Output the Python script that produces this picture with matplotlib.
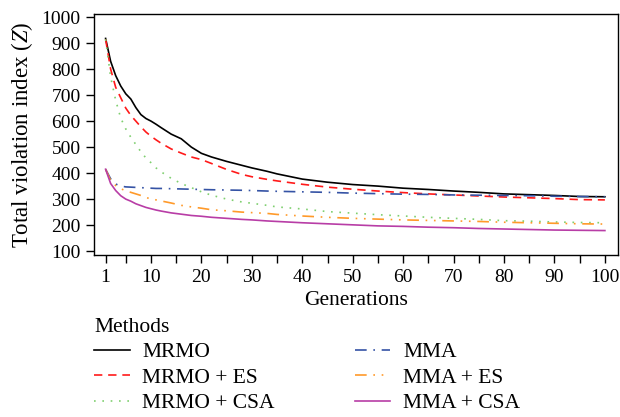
import matplotlib
matplotlib.use("Agg")
import matplotlib.pyplot as plt

plt.rcParams['font.family'] = ['Liberation Serif', 'DejaVu Serif']
plt.rcParams['mathtext.fontset'] = 'custom'
plt.rcParams['mathtext.rm'] = 'Liberation Serif'
plt.rcParams['mathtext.it'] = 'Liberation Serif:italic'

# Dados
geracoes = [1, 2, 3, 4, 5, 6, 7, 8, 9, 10, 11, 12, 14, 16, 18, 20, 22, 25, 28, 30,
            33, 35, 40, 45, 50, 55, 60, 65, 70, 75, 80, 85, 90, 95, 100]

mrmo = [918, 830, 775, 735, 705, 685, 652, 625, 610, 600, 588, 575, 550, 532, 500, 476,
        462, 445, 430, 420, 407, 397, 377, 365, 356, 350, 342, 337, 331, 326, 320, 317,
        314, 310, 309]
mrmo_es = [915, 800, 730, 690, 650, 622, 600, 578, 558, 542, 528, 515, 493, 477, 462, 452,
           437, 414, 395, 386, 376, 370, 357, 346, 338, 331, 325, 320, 316, 312, 308, 305,
           302, 298, 297]
mrmo_csa = [915, 770, 680, 612, 570, 538, 510, 482, 458, 440, 420, 405, 380, 360, 344, 328,
            315, 300, 289, 284, 276, 270, 262, 252, 246, 240, 235, 230, 226, 222, 217, 215,
            212, 210, 209]
mma = [415, 378, 358, 350, 347, 346, 345, 344, 343, 342, 341, 341, 340, 339, 338, 337,
       336, 335, 334, 333, 331, 330, 328, 326, 323, 321, 319, 318, 316, 315, 314, 313,
       311, 310, 309]
mma_es = [415, 372, 352, 340, 332, 326, 320, 314, 306, 301, 297, 293, 285, 276, 270, 265,
          259, 255, 250, 248, 245, 241, 235, 230, 226, 223, 220, 218, 216, 214, 211, 209,
          207, 205, 204]
mma_csa = [415, 360, 333, 313, 300, 292, 282, 275, 268, 263, 258, 254, 247, 242, 237, 234,
           230, 226, 222, 220, 216, 214, 209, 205, 201, 197, 195, 192, 190, 187, 185, 183,
           181, 180, 179]

nomes = ['MRMO', 'MRMO + ES', 'MRMO + CSA', 'MMA', 'MMA + ES', 'MMA + CSA']
x_ticks = [1, 5, 10, 15, 20, 25, 30, 35, 40, 45, 50, 55, 60, 65, 70, 75, 80, 85, 90, 95, 100]
x_labels = ['1', '', '10', '', '20', '', '30', '', '40', '', '50', '', '60', '', '70', '',
            '80', '', '90', '', '100']
y_ticks = [100, 200, 300, 400, 500, 600, 700, 800, 900, 1000]

series = [mrmo, mrmo_es, mrmo_csa, mma, mma_es, mma_csa]
cores = ['#000000', '#ff1a1a', '#7fcf6f', '#3553a5', '#ff9a2a', '#b83da6']
estilos = ['-', (0, (5, 3.5)), (0, (1, 4)), (0, (7, 4, 1, 4)), (0, (7, 4, 1, 4, 1, 4)), '-']

fig = plt.figure(figsize=(6.2, 4.17), dpi=100)
ax = fig.add_axes([94.5 / 620, 1 - 255 / 417, (618 - 94.5) / 620, (255 - 14) / 417])

for valores, cor, estilo, nome in zip(series, cores, estilos, nomes):
    ax.plot(geracoes, valores, color=cor, linestyle=estilo, linewidth=1.2, label=nome)

ax.set_xlim(-1.2, 102.6)
ax.set_ylim(85, 1012)
ax.set_xticks(x_ticks)
ax.set_xticklabels(x_labels)
ax.set_yticks(y_ticks)
ax.tick_params(direction='out', length=6, width=1, labelsize=14, pad=4)
for s in ax.spines.values():
    s.set_linewidth(1)

ax.set_xlabel('Generations', fontsize=15.5, labelpad=4)
ax.set_ylabel('Total violation index ($\\mathit{Z}$)', fontsize=16.5, labelpad=5)

handles, labels = ax.get_legend_handles_labels()
fig.legend(handles, labels, title='Methods', loc='upper left',
           bbox_to_anchor=(94 / 620, 1 - 318 / 417), ncol=2, frameon=False,
           fontsize=15.5, title_fontsize=15.5, alignment='left', borderpad=0,
           borderaxespad=0, handlelength=1.65, handletextpad=0.6, columnspacing=3.7,
           labelspacing=0.25)

fig.savefig('out.png', dpi=100)
